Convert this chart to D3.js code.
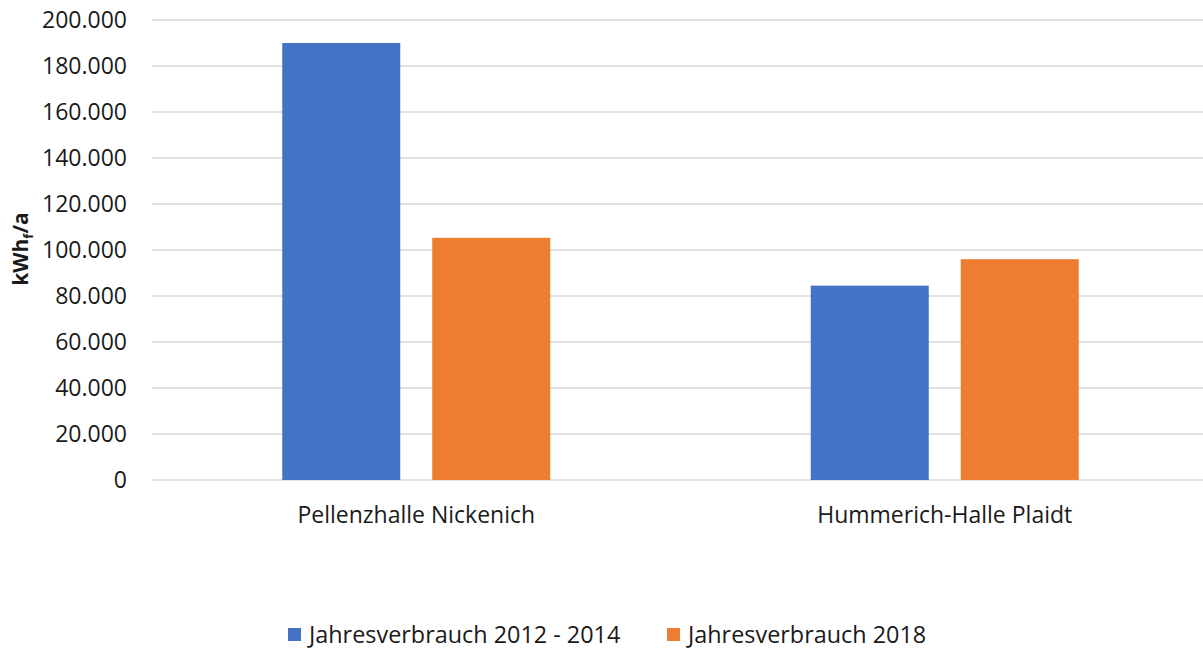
<!DOCTYPE html>
<html>
<head>
<meta charset="utf-8">
<script src="https://cdn.jsdelivr.net/npm/d3@7"></script>
<style>
  body { margin: 0; background: #fff; }
  svg { display: block; font-family: "Open Sans", sans-serif; }
</style>
</head>
<body>
<svg id="chart" width="1203" height="651"></svg>
<script>
const categories = ["Pellenzhalle Nickenich", "Hummerich-Halle Plaidt"];
const seriesNames = ["Jahresverbrauch 2012 - 2014", "Jahresverbrauch 2018"];
const series2012_2014 = [190000, 84500];
const series2018 = [105300, 96000];
const yTicks = [0, 20000, 40000, 60000, 80000, 100000, 120000, 140000, 160000, 180000, 200000];
const colors = ["#4472c4", "#ed7d31"];

const svg = d3.select("#chart");
const margin = { left: 152, right: -6, top: 20, bottom: 171 };
const width = 1203, height = 651;

const x0 = d3.scaleBand()
    .domain(categories)
    .range([margin.left, width - margin.right]);

const groupW = 268;
const x1 = d3.scaleBand()
    .domain(seriesNames)
    .range([(x0.bandwidth() - groupW) / 2, (x0.bandwidth() + groupW) / 2])
    .paddingInner(0.2133);

const y = d3.scaleLinear()
    .domain([0, 200000])
    .range([height - margin.bottom, margin.top]);

const fmt = d => d3.format(",")(d).replace(/,/g, ".");

// gridlines
svg.append("g")
    .selectAll("line")
    .data(yTicks)
    .join("line")
    .attr("x1", margin.left)
    .attr("x2", width)
    .attr("y1", d => y(d))
    .attr("y2", d => y(d))
    .attr("stroke", "#d9d9d9")
    .attr("stroke-width", 1.3);

// y tick labels
svg.append("g")
    .selectAll("text")
    .data(yTicks)
    .join("text")
    .attr("x", 127)
    .attr("y", d => y(d))
    .attr("dy", "0.36em")
    .attr("text-anchor", "end")
    .attr("font-size", 23)
    .attr("fill", "#1a1a1a")
    .text(d => fmt(d));

// bars
const rows = categories.map((c, i) => ({
    cat: c,
    values: [series2012_2014[i], series2018[i]]
}));

const grp = svg.append("g")
    .selectAll("g")
    .data(rows)
    .join("g")
    .attr("transform", d => `translate(${x0(d.cat)},0)`);

grp.selectAll("rect")
    .data(d => d.values.map((v, j) => ({ name: seriesNames[j], v, j })))
    .join("rect")
    .attr("x", d => x1(d.name))
    .attr("width", x1.bandwidth())
    .attr("y", d => y(d.v))
    .attr("height", d => y(0) - y(d.v))
    .attr("fill", d => colors[d.j]);

// category labels
svg.append("g")
    .selectAll("text")
    .data(categories)
    .join("text")
    .attr("x", d => x0(d) + x0.bandwidth() / 2)
    .attr("y", 523)
    .attr("text-anchor", "middle")
    .attr("font-size", 23)
    .attr("fill", "#1a1a1a")
    .text(d => d);

// y axis title
const yt = svg.append("text")
    .attr("transform", "translate(28,249) rotate(-90)")
    .attr("text-anchor", "middle")
    .attr("font-size", 21)
    .attr("font-weight", "bold")
    .attr("fill", "#1a1a1a");
yt.append("tspan").text("kWh");
yt.append("tspan").attr("font-size", 13).attr("dy", 5).text("f");
yt.append("tspan").attr("dy", -5).text("/a");

// legend
const legendX = [288, 667];
const legend = svg.append("g")
    .selectAll("g")
    .data(seriesNames)
    .join("g")
    .attr("transform", (d, i) => `translate(${legendX[i]},635)`);
legend.append("rect")
    .attr("x", 0)
    .attr("y", -7)
    .attr("width", 13)
    .attr("height", 13)
    .attr("fill", (d, i) => colors[i]);
legend.append("text")
    .attr("x", 21)
    .attr("y", 0)
    .attr("dy", "0.36em")
    .attr("font-size", 23.4)
    .attr("fill", "#1a1a1a")
    .text(d => d);
</script>
</body>
</html>
